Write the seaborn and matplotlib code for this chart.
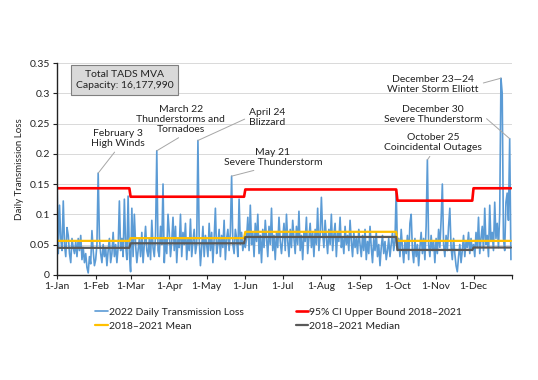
import numpy as np
import pandas as pd
import matplotlib
matplotlib.use("Agg")
import matplotlib.pyplot as plt
import seaborn as sns

# daily 2022 transmission loss
jan = [0.158, 0.035, 0.115, 0.06, 0.04, 0.122, 0.05, 0.03, 0.078, 0.065, 0.035, 0.02, 0.06, 0.045, 0.035, 0.055,
       0.03, 0.06, 0.04, 0.065, 0.025, 0.045, 0.02, 0.035, 0.012, 0.003, 0.03, 0.018, 0.073, 0.04, 0.015]
feb = [0.025, 0.05, 0.168, 0.06, 0.035, 0.02, 0.05, 0.03, 0.045, 0.015, 0.04, 0.06, 0.02, 0.035, 0.07, 0.03,
       0.05, 0.02, 0.045, 0.122, 0.04, 0.06, 0.03, 0.125, 0.05, 0.025, 0.13, 0.035]
mar = [0.005, 0.11, 0.03, 0.1, 0.05, 0.02, 0.04, 0.06, 0.03, 0.07, 0.02, 0.05, 0.08, 0.04, 0.03, 0.06,
       0.025, 0.09, 0.045, 0.03, 0.065, 0.205, 0.04, 0.03, 0.08, 0.05, 0.15, 0.02, 0.06, 0.035, 0.1]
apr = [0.07, 0.03, 0.055, 0.095, 0.04, 0.08, 0.02, 0.06, 0.045, 0.1, 0.03, 0.07, 0.05, 0.085, 0.025, 0.06,
       0.04, 0.092, 0.03, 0.055, 0.075, 0.035, 0.05, 0.222, 0.06, 0.015, 0.045, 0.08, 0.03, 0.065]
may = [0.05, 0.03, 0.085, 0.04, 0.07, 0.02, 0.06, 0.11, 0.035, 0.05, 0.075, 0.03, 0.065, 0.045, 0.09, 0.025,
       0.06, 0.075, 0.04, 0.07, 0.163, 0.05, 0.035, 0.075, 0.06, 0.03, 0.125, 0.05, 0.07, 0.04, 0.055]
jun = [0.045, 0.06, 0.095, 0.04, 0.115, 0.05, 0.07, 0.03, 0.085, 0.055, 0.1, 0.035, 0.065, 0.02, 0.075, 0.045,
       0.09, 0.06, 0.03, 0.08, 0.05, 0.11, 0.04, 0.065, 0.025, 0.07, 0.045, 0.095, 0.055, 0.035]
jul = [0.06, 0.085, 0.04, 0.1, 0.055, 0.03, 0.075, 0.045, 0.09, 0.06, 0.035, 0.08, 0.05, 0.105, 0.04, 0.065,
       0.025, 0.07, 0.055, 0.095, 0.035, 0.06, 0.085, 0.045, 0.07, 0.03, 0.075, 0.05, 0.11, 0.04, 0.065]
aug = [0.128, 0.07, 0.045, 0.09, 0.06, 0.035, 0.075, 0.05, 0.1, 0.04, 0.065, 0.085, 0.03, 0.07, 0.055, 0.095,
       0.045, 0.06, 0.035, 0.08, 0.05, 0.065, 0.04, 0.09, 0.055, 0.03, 0.07, 0.045, 0.06, 0.035, 0.075]
sep = [0.05, 0.03, 0.065, 0.04, 0.075, 0.025, 0.055, 0.035, 0.08, 0.045, 0.02, 0.06, 0.04, 0.07, 0.03, 0.05,
       0.015, 0.045, 0.065, 0.035, 0.055, 0.025, 0.04, 0.06, 0.03, 0.05, 0.07, 0.04, 0.055, 0.14]
oct_ = [0.04, 0.06, 0.03, 0.075, 0.045, 0.02, 0.055, 0.035, 0.065, 0.025, 0.085, 0.1, 0.04, 0.02, 0.06, 0.03,
        0.05, 0.015, 0.045, 0.07, 0.035, 0.06, 0.025, 0.08, 0.19, 0.05, 0.03, 0.065, 0.04, 0.055, 0.02]
nov = [0.06, 0.035, 0.075, 0.045, 0.09, 0.15, 0.05, 0.03, 0.065, 0.04, 0.08, 0.11, 0.045, 0.025, 0.06, 0.035,
       0.015, 0.005, 0.03, 0.05, 0.02, 0.04, 0.065, 0.03, 0.055, 0.045, 0.07, 0.035, 0.06, 0.04]
dec = [0.05, 0.03, 0.07, 0.045, 0.095, 0.035, 0.06, 0.08, 0.04, 0.11, 0.05, 0.065, 0.03, 0.115, 0.055, 0.07,
       0.04, 0.12, 0.06, 0.085, 0.045, 0.1, 0.325, 0.3, 0.06, 0.04, 0.12, 0.135, 0.09, 0.225, 0.025]

# 2018-2021 monthly reference levels
ci_upper = [0.143, 0.143, 0.129, 0.129, 0.129, 0.141, 0.141, 0.141, 0.141, 0.1225, 0.1225, 0.143]
hist_mean = [0.056, 0.056, 0.0605, 0.0605, 0.0605, 0.071, 0.071, 0.071, 0.071, 0.056, 0.056, 0.056]
hist_median = [0.0445, 0.0445, 0.052, 0.052, 0.052, 0.0625, 0.0625, 0.0625, 0.0625, 0.041, 0.041, 0.045]

month_labels = ["1-Jan", "1-Feb", "1-Mar", "1-Apr", "1-May", "1-Jun", "1-Jul", "1-Aug",
                "1-Sep", "1-Oct", "1-Nov", "1-Dec", ""]

events = [
    ("February 3\nHigh Winds", "2022-02-03"),
    ("March 22\nThunderstorms and\nTornadoes", "2022-03-22"),
    ("April 24\nBlizzard", "2022-04-24"),
    ("May 21\nSevere Thunderstorm", "2022-05-21"),
    ("October 25\nCoincidental Outages", "2022-10-25"),
    ("December 23\u201424\nWinter Storm Elliott", "2022-12-23"),
    ("December 30\nSevere Thunderstorm", "2022-12-30"),
]

months = [jan, feb, mar, apr, may, jun, jul, aug, sep, oct_, nov, dec]
daily = np.concatenate(months)
dates = pd.date_range("2022-01-01", "2022-12-31", freq="D")
days_in_month = [len(m) for m in months]

df = pd.DataFrame({
    "date": dates,
    "loss": daily,
    "ci": np.repeat(ci_upper, days_in_month),
    "mean": np.repeat(hist_mean, days_in_month),
    "median": np.repeat(hist_median, days_in_month),
})

sns.set_theme(style="white")
plt.rcParams["font.family"] = ["Lato", "DejaVu Sans"]

fig = plt.figure(figsize=(5.38, 3.8), dpi=100)
ax = fig.add_axes([0.106, 0.277, 0.846, 0.557])

sns.lineplot(data=df, x="date", y="loss", ax=ax, color="#5B9BD5", linewidth=1.2,
             label="2022 Daily Transmission Loss")
sns.lineplot(data=df, x="date", y="mean", ax=ax, color="#FFC000", linewidth=1.6,
             label="2018\u20132021 Mean")
sns.lineplot(data=df, x="date", y="ci", ax=ax, color="#FF0000", linewidth=1.9,
             label="95% CI Upper Bound 2018\u20132021")
sns.lineplot(data=df, x="date", y="median", ax=ax, color="#595959", linewidth=1.6,
             label="2018\u20132021 Median")

ax.set_ylim(0, 0.35)
ax.set_yticks(np.arange(0, 0.351, 0.05))
ax.set_yticklabels(["0", "0.05", "0.1", "0.15", "0.2", "0.25", "0.3", "0.35"])
ticks = list(pd.date_range("2022-01-01", "2023-01-01", freq="MS"))
ax.set_xlim(ticks[0], ticks[-1])
ax.set_xticks(ticks)
ax.set_xticklabels(month_labels)
ax.tick_params(axis="both", labelsize=7.5, colors="#222222", length=3, width=0.8, direction="out",
               bottom=True, left=True, pad=2)
ax.set_xlabel("")
ax.set_ylabel("Daily Transmission Loss", fontsize=7, color="#222222", labelpad=4)
ax.grid(axis="y", color="#d9d9d9", linewidth=0.7)
for side in ["top", "right"]:
    ax.spines[side].set_visible(False)
for side in ["left", "bottom"]:
    ax.spines[side].set_color("#222222")
    ax.spines[side].set_linewidth(1.0)

ax.text(0.148, 0.92, "Total TADS MVA\nCapacity: 16,177,990", transform=ax.transAxes,
        ha="center", va="center", fontsize=7.5, color="#222222", linespacing=1.4,
        bbox=dict(boxstyle="square,pad=0.45", facecolor="#d9d9d9", edgecolor="#7f7f7f", linewidth=0.8))

# label centres (axes fraction) and where the leader leaves the text box
label_pos = [(0.134, 0.645, (0.5, 0.0)), (0.272, 0.735, (0.55, 0.0)), (0.462, 0.745, (0.0, 0.5)),
             (0.474, 0.555, (0.45, 0.0)), (0.826, 0.625, (0.5, 0.0)), (0.826, 0.90, (1.0, 0.5)),
             (0.826, 0.755, (1.0, 0.5))]
lookup = df.set_index("date")["loss"]
for (txt, day), (tx, ty, rp) in zip(events, label_pos):
    d = pd.Timestamp(day)
    ax.annotate(txt, xy=(d, lookup[d]), xycoords="data", xytext=(tx, ty), textcoords="axes fraction",
                ha="center", va="center", fontsize=7.5, color="#222222", linespacing=1.15,
                arrowprops=dict(arrowstyle="-", color="#a6a6a6", linewidth=0.7, relpos=rp,
                                shrinkA=1, shrinkB=0))

handles, labels = ax.get_legend_handles_labels()
ax.legend_.remove()
fig.legend(handles, labels, loc="upper left", bbox_to_anchor=(0.16, 0.216), ncol=2, frameon=False,
           fontsize=7.5, handlelength=1.2, handletextpad=0.1, columnspacing=5.0, labelspacing=0.5,
           labelcolor="#222222")

fig.savefig("out.png", dpi=100)
